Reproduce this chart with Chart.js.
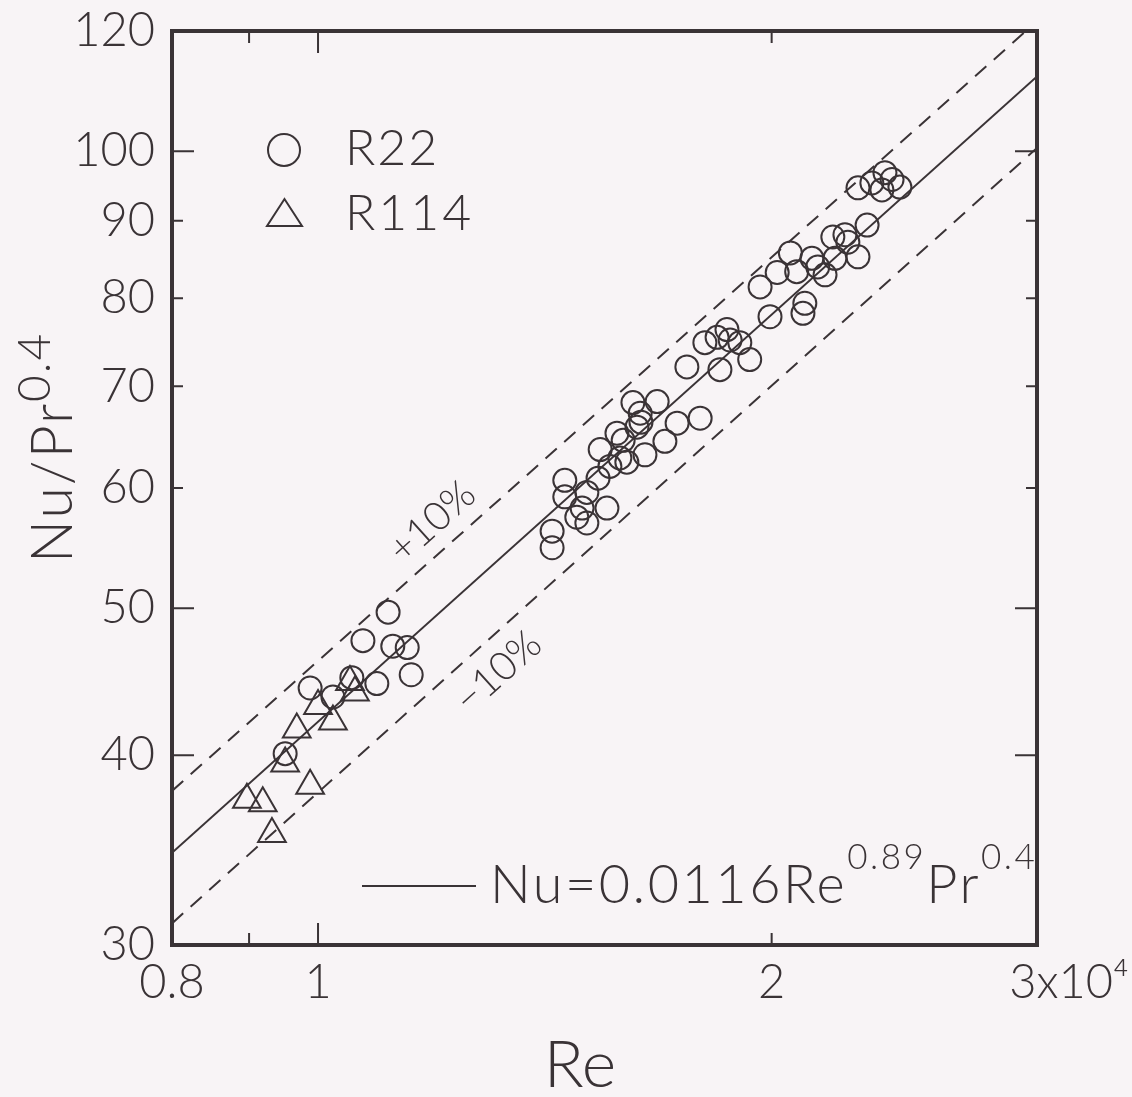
<!DOCTYPE html>
<html lang="ja">
<head>
<meta charset="UTF-8">
<title>Nu/Pr^0.4 - Re</title>
<script src="https://cdn.jsdelivr.net/npm/chart.js"></script>
<style>
  body { margin: 0; background: #f8f4f6; }
  #wrap { width: 1132px; height: 1097px; position: relative; }
</style>
</head>
<body>
<div id="wrap"><canvas id="myChart"></canvas></div>
<script>
// Re is in units of 10^4, y is Nu/Pr^0.4
const r22Re = [0.951, 0.988, 1.023, 1.053, 1.094, 1.071, 1.113, 1.121, 1.146, 1.153,
               1.430, 1.430, 1.458, 1.458, 1.508, 1.497, 1.485, 1.508, 1.555, 1.534,
               1.539, 1.562, 1.579, 1.586, 1.603, 1.594, 1.618, 1.636, 1.628, 1.638,
               1.648, 1.679, 1.699, 1.731, 1.793,
               1.757, 1.848, 1.806, 1.840, 1.868, 1.877, 1.905, 1.934, 1.995, 2.098, 2.104,
               1.965, 2.017, 2.058, 2.078, 2.127, 2.146, 2.170, 2.203, 2.282, 2.196,
               2.237, 2.247, 2.314, 2.282, 2.331, 2.378, 2.367, 2.404, 2.433];
const r22Nu = [40.1, 44.3, 43.7, 45.0, 44.6, 47.6, 49.7, 47.2, 47.1, 45.2,
               54.8, 56.2, 60.7, 59.2, 59.6, 58.2, 57.4, 56.9, 58.2, 60.9,
               63.6, 62.0, 65.2, 62.8, 62.4, 64.5, 68.3, 67.2, 65.8, 66.3,
               63.1, 68.4, 64.4, 66.2, 66.7,
               72.1, 71.8, 74.8, 75.4, 76.3, 75.1, 74.8, 72.9, 77.8, 78.2, 79.4,
               81.4, 83.2, 85.7, 83.3, 85.0, 83.9, 82.9, 85.0, 85.2, 87.8,
               88.1, 87.1, 89.4, 94.6, 95.3, 96.8, 94.3, 95.8, 94.7];

const r114Re = [0.897, 0.919, 0.932, 0.951, 0.968, 0.988, 1.000, 1.023, 1.050, 1.058];
const r114Nu = [37.4, 37.2, 35.5, 39.5, 41.6, 38.2, 43.1, 42.1, 44.7, 44.0];

// Nu = 0.0116 Re^0.89 Pr^0.4 and the +-10% band, end points
const fitRe = [0.8, 3];
const fitNu = [34.5, 112];
const plusRe = [0.8, 2.95];
const plusNu = [37.9, 120];
const minusRe = [0.8, 3];
const minusNu = [31.0, 100.5];

const xTicks = [0.8, 1, 2, 3];
const xTickLabels = ['0.8', '1', '2', '\u00a0\u00a0\u00a0\u00a0\u00a03x10\u2074'];
const yTicks = [30, 40, 50, 60, 70, 80, 90, 100, 120];
const yTickLabels = ['30', '40', '50', '60', '70', '80', '90', '100', '120'];
const xMarks = [0.9, 1, 2];
const yMarks = [40, 50, 60, 70, 80, 90, 100];

const ink = '#3a3336';
const fontFam = 'Lato, "Open Sans", sans-serif';

function pts(xs, ys) {
    return xs.map((v, i) => ({ x: v, y: ys[i] }));
}

// draw text made of pieces (for superscripts)
function drawRich(ctx, parts, x, y, spacing) {
    parts.forEach(p => {
        ctx.font = '300 ' + p[1] + 'px ' + fontFam;
        ctx.letterSpacing = (spacing || 0) + 'px';
        ctx.fillText(p[0], x, y + p[2]);
        x += ctx.measureText(p[0]).width;
    });
}

const framePlugin = {
    id: 'framePlugin',
    beforeDraw(chart) {
        const ctx = chart.ctx;
        ctx.save();
        ctx.fillStyle = '#f8f4f6';
        ctx.fillRect(0, 0, chart.width, chart.height);
        ctx.restore();
    },
    afterDraw(chart) {
        const ctx = chart.ctx;
        const a = chart.chartArea;
        const x = chart.scales.x, y = chart.scales.y;
        ctx.save();
        ctx.strokeStyle = ink;
        ctx.fillStyle = ink;

        // inward tick marks on all four sides
        ctx.lineWidth = 2;
        xMarks.forEach(v => {
            const px = x.getPixelForValue(v);
            const len = v === 1 ? 22 : 12;
            ctx.beginPath();
            ctx.moveTo(px, a.bottom); ctx.lineTo(px, a.bottom - len);
            ctx.moveTo(px, a.top); ctx.lineTo(px, a.top + len);
            ctx.stroke();
        });
        yMarks.forEach(v => {
            const py = y.getPixelForValue(v);
            const len = (v === 40 || v === 50 || v === 100) ? 22 : 11;
            ctx.beginPath();
            ctx.moveTo(a.left, py); ctx.lineTo(a.left + len, py);
            ctx.moveTo(a.right, py); ctx.lineTo(a.right - len, py);
            ctx.stroke();
        });

        // frame
        ctx.lineWidth = 4;
        ctx.strokeRect(a.left, a.top, a.right - a.left, a.bottom - a.top);

        // legend
        ctx.lineWidth = 2;
        ctx.beginPath();
        ctx.arc(284, 150, 16, 0, Math.PI * 2);
        ctx.stroke();
        ctx.beginPath();
        ctx.moveTo(284.5, 199); ctx.lineTo(267, 226); ctx.lineTo(302, 226); ctx.closePath();
        ctx.stroke();
        ctx.textBaseline = 'alphabetic';
        ctx.textAlign = 'left';
        drawRich(ctx, [['R22', 50, 0]], 345, 165, 2);
        drawRich(ctx, [['R114', 50, 0]], 345, 230, 3);

        // correlation label
        ctx.lineWidth = 2;
        ctx.beginPath();
        ctx.moveTo(362, 886); ctx.lineTo(476, 886);
        ctx.stroke();
        drawRich(ctx, [['Nu=0.0116Re', 54, 0], ['0.89', 35, -34], ['Pr', 54, 0], ['0.4', 35, -34]], 490, 903, 2.5);

        // band labels
        [['+10%', 432, 522], ['\u221210%', 498, 672]].forEach(t => {
            ctx.save();
            ctx.translate(t[1], t[2]);
            ctx.rotate(-42 * Math.PI / 180);
            ctx.textAlign = 'center';
            ctx.textBaseline = 'middle';
            ctx.font = '300 40px ' + fontFam;
            ctx.letterSpacing = '0px';
            ctx.fillText(t[0], 0, 0);
            ctx.restore();
        });

        // axis titles
        ctx.textAlign = 'center';
        ctx.letterSpacing = '0px';
        ctx.font = '300 66px ' + fontFam;
        ctx.fillText('Re', 580, 1087);

        ctx.save();
        ctx.translate(72, 563);
        ctx.rotate(-Math.PI / 2);
        ctx.textAlign = 'left';
        drawRich(ctx, [['Nu/Pr', 57, 0], ['0.4', 46, -22]], 0, 0, 2);
        ctx.restore();

        ctx.restore();
    }
};

const tickFont = { family: fontFam, weight: '300', size: 47 };

const ctx = document.getElementById('myChart').getContext('2d');
const myChart = new Chart(ctx, {
    type: 'scatter',
    data: {
        datasets: [
            {
                label: 'R22',
                data: pts(r22Re, r22Nu),
                pointStyle: 'circle',
                pointRadius: 11.5,
                borderColor: ink,
                borderWidth: 2,
                backgroundColor: 'rgba(0,0,0,0)'
            },
            {
                label: 'R114',
                data: pts(r114Re, r114Nu),
                pointStyle: 'triangle',
                pointRadius: 16,
                borderColor: ink,
                borderWidth: 2,
                backgroundColor: 'rgba(0,0,0,0)'
            },
            {
                label: 'Nu=0.0116Re^0.89Pr^0.4',
                data: pts(fitRe, fitNu),
                showLine: true,
                pointRadius: 0,
                borderColor: ink,
                borderWidth: 2
            },
            {
                label: '+10%',
                data: pts(plusRe, plusNu),
                showLine: true,
                pointRadius: 0,
                borderColor: ink,
                borderWidth: 2,
                borderDash: [15, 10]
            },
            {
                label: '-10%',
                data: pts(minusRe, minusNu),
                showLine: true,
                pointRadius: 0,
                borderColor: ink,
                borderWidth: 2,
                borderDash: [15, 10]
            }
        ]
    },
    options: {
        responsive: true,
        maintainAspectRatio: false,
        animation: false,
        layout: { padding: { top: 31, right: 95, left: 0, bottom: 0 } },
        plugins: {
            legend: { display: false },
            tooltip: { enabled: false }
        },
        scales: {
            x: {
                type: 'logarithmic',
                min: 0.8,
                max: 3,
                grid: { display: false, drawTicks: false },
                border: { display: false },
                afterBuildTicks: s => { s.ticks = xTicks.map(v => ({ value: v })); },
                afterFit: s => {
                    s.height = 152;
                    s.paddingLeft = 0;
                    s.paddingRight = 0;
                },
                ticks: {
                    autoSkip: false,
                    maxRotation: 0,
                    padding: 10,
                    color: ink,
                    font: tickFont,
                    callback: (v, i) => xTickLabels[i]
                }
            },
            y: {
                type: 'logarithmic',
                min: 30,
                max: 120,
                grid: { display: false, drawTicks: false },
                border: { display: false },
                afterBuildTicks: s => { s.ticks = yTicks.map(v => ({ value: v })); },
                afterFit: s => {
                    s.width = 172;
                    s.paddingTop = 0;
                    s.paddingBottom = 0;
                },
                ticks: {
                    autoSkip: false,
                    padding: 17,
                    color: ink,
                    font: tickFont,
                    callback: (v, i) => yTickLabels[i]
                }
            }
        }
    },
    plugins: [framePlugin]
});
</script>
</body>
</html>
